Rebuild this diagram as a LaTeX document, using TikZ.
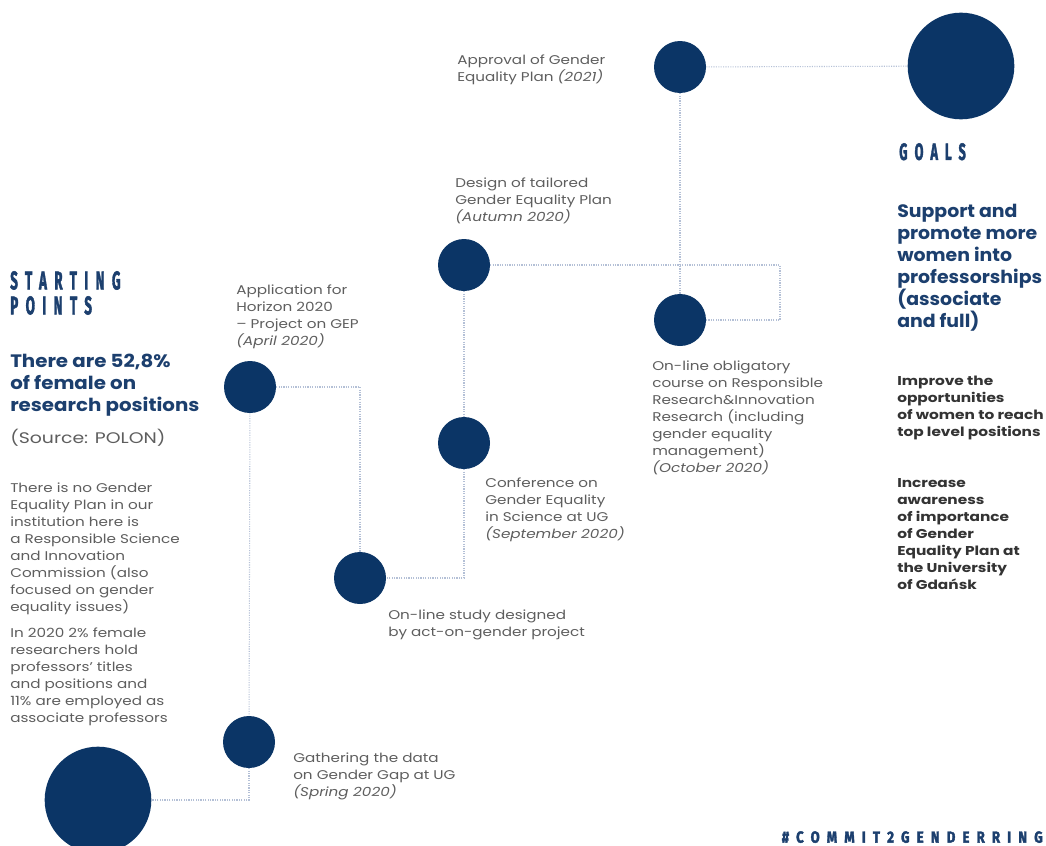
\documentclass[tikz,border=0pt]{standalone}
\usepackage{fontspec}
\setmainfont{Poppins}
\newfontfamily\bodyfont[FakeStretch=1.2]{Poppins}
\newfontfamily\headfont[FakeStretch=1.1]{Poppins}
\newfontfamily\goalheadfont[FakeStretch=1.05]{Poppins}
\newfontfamily\goalfont[FakeStretch=1.2]{Poppins}
\newfontfamily\srcfont[FakeStretch=1.23]{Poppins}
\newfontfamily\condfont[LetterSpace=55, FakeBold=2.5]{Fira Sans}
\usepackage{graphicx}
\definecolor{navy}{HTML}{0B3566}
\definecolor{headblue}{HTML}{1C3F6E}
\definecolor{bodygray}{HTML}{5E5E5E}
\definecolor{goalgray}{HTML}{333333}
\definecolor{linecol}{HTML}{B4C0D6}
\tikzset{
  dot/.style={circle, fill=navy, draw=none, minimum size=39pt, inner sep=0},
  bigdot/.style={circle, fill=navy, draw=none, minimum size=80pt, inner sep=0},
  conn/.style={draw=linecol, line width=0.8pt, densely dotted},
  body/.style={anchor=north west, inner sep=0, align=left, text=bodygray, font=\bodyfont\fontsize{9.5}{12.7}\selectfont},
  heading/.style={anchor=north west, inner sep=0, align=left, text=headblue, font=\headfont\fontsize{13.5}{16.5}\selectfont\bfseries},
  goalbody/.style={anchor=north west, inner sep=0, align=left, text=goalgray, font=\goalfont\fontsize{9.6}{12.8}\selectfont\bfseries},
  cond/.style={inner sep=0, text=headblue, font=\condfont\fontsize{19}{22}\selectfont\bfseries}
}
\begin{document}
\begin{tikzpicture}[x=0.75pt,y=-0.75pt]
\useasboundingbox[fill=white] (0,0) rectangle (1046,846);
% circles
\node[bigdot] (goal) at (961,66) {};
\node[dot] (approval) at (680,67) {};
\node[dot] (design) at (464,265) {};
\node[dot] (course) at (680,320) {};
\node[dot] (application) at (250,387) {};
\node[dot] (conference) at (464,443) {};
\node[dot] (study) at (360,578) {};
\node[dot] (gathering) at (249,742) {};
\node[bigdot] (start) at (98,800) {};
\coordinate (bend) at (780,265);
% connectors
\draw[conn] (approval) -- (goal);
\draw[conn] (approval) -- (course);
\draw[conn] (design) -- (bend) |- (course);
\draw[conn] (design) -- (conference);
\draw[conn] (conference) |- (study);
\draw[conn] (application) -| (study);
\draw[conn] (application) -- (gathering);
\draw[conn] (gathering) |- (start);
% labels
\node[body] (tapproval) at (457,55) {Approval of Gender\\Equality Plan \textit{(2021)}};
\node[body] (tdesign) at (455,178) {Design of tailored\\Gender Equality Plan\\\textit{(Autumn 2020)}};
\node[body] (tapplication) at (236,285) {Application for\\Horizon 2020\\– Project on GEP\\\textit{(April 2020)}};
\node[body] (tcourse) at (652,361) {On-line obligatory\\course on Responsible\\Research\&Innovation\\Research (including\\gender equality\\management)\\\textit{(October 2020)}};
\node[body] (tconference) at (485,478) {Conference on\\Gender Equality\\in Science at UG\\\textit{(September 2020)}};
\node[body] (tstudy) at (388,610) {On-line study designed\\by act-on-gender project};
\node[body] (tgathering) at (293,753) {Gathering the data\\on Gender Gap at UG\\\textit{(Spring 2020)}};
% left column
\node[cond, anchor=north west] (tstarting) at (10,271) {\scalebox{0.53}[1]{STARTING}};
\node[cond, anchor=north west] (tpoints) at (10,296) {\scalebox{0.53}[1]{POINTS}};
\node[heading] (tfemale) at (10,354) {There are 52,8\%\\of female on\\research positions};
\node[body, font=\srcfont\fontsize{11.5}{13}\selectfont] (tsource) at (10,429) {(Source: POLON)};
\node[body] (tnogep) at (10,483) {There is no Gender\\Equality Plan in our\\institution here is\\a Responsible Science\\and Innovation\\Commission (also\\focused on gender\\equality issues)};
\node[body] (t2020) at (10,628) {In 2020 2\% female\\researchers hold\\professors’ titles\\and positions and\\11\% are employed as\\associate professors};
% right column
\node[cond, anchor=north west, font=\condfont\fontsize{17.5}{20}\selectfont\bfseries] (tgoals) at (899,143) {\scalebox{0.55}[1]{GOALS}};
\node[heading, font=\goalheadfont\fontsize{13.5}{16.5}\selectfont\bfseries] (tsupport) at (897,204) {Support and\\promote more\\women into\\professorships\\(associate\\and full)};
\node[goalbody] (timprove) at (897,376) {Improve the\\opportunities\\of women to reach\\top level positions};
\node[goalbody] (tincrease) at (897,478) {Increase\\awareness\\of importance\\of Gender\\Equality Plan at\\the University\\of Gdańsk};
\node[cond, anchor=north east, font=\condfont\fontsize{12}{14}\selectfont\bfseries] (thash) at (1043,831) {\scalebox{0.82}[1]{\#COMMIT2GENDERRING}};
\end{tikzpicture}
\end{document}
